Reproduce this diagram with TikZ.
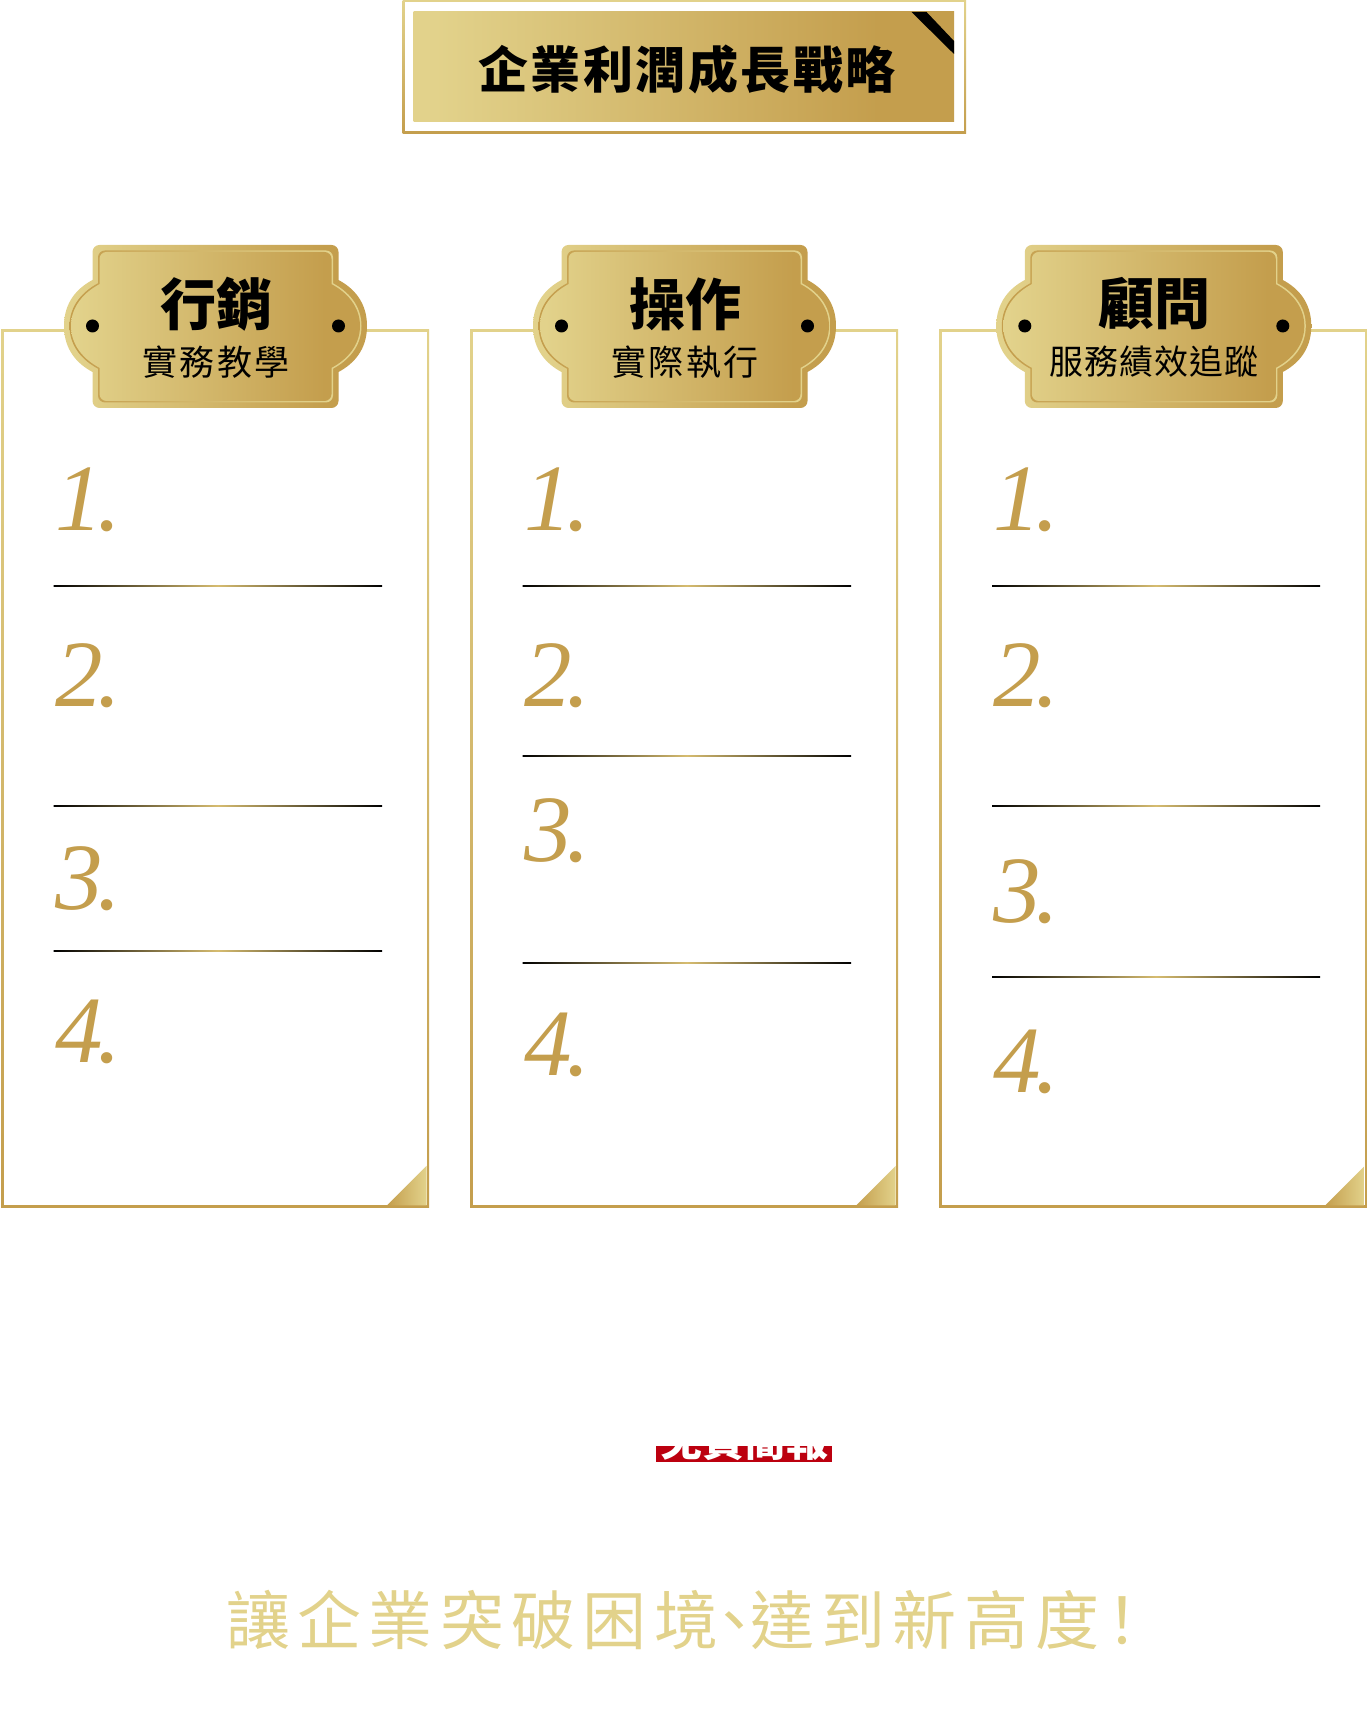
\documentclass[tikz,border=0pt]{standalone}
\usepackage{fontspec}
\setmainfont{Liberation Serif}
\newfontfamily\cjk{Noto Sans CJK TC}
\definecolor{goldlight}{HTML}{E2D28B}
\definecolor{golddark}{HTML}{C49E4D}
\definecolor{goldmid}{HTML}{D6BC70}
\definecolor{redband}{HTML}{BC000F}
\pgfdeclarehorizontalshading{goldband}{100bp}{color(0bp)=(goldlight); color(27bp)=(goldlight); color(68bp)=(golddark); color(100bp)=(golddark)}
\pgfdeclarehorizontalshading{goldbandrev}{100bp}{color(0bp)=(golddark); color(27bp)=(golddark); color(68bp)=(goldlight); color(100bp)=(goldlight)}
\tikzset{
	txt/.style={inner sep=0pt,outer sep=0pt},
	numeral/.style={txt,anchor=base west,text=golddark,font=\fontsize{95}{95}\selectfont\itshape},
	rulegold/.style={left color=black,right color=black,middle color=goldmid},
	headtext/.style={txt,font=\cjk\bfseries\fontsize{56}{56}\selectfont},
	subtext/.style={txt,font=\cjk\fontsize{35}{35}\selectfont\addfontfeature{LetterSpace=6}},
	plaquepath/.style n args={3}{insert path={
		({#1-#2+#3+7},{1468-#3}) -- ({#1+#2-#3-7},{1468-#3}) arc[start angle=90,end angle=0,radius=7]
		-- ({#1+#2-#3},{1433-.6*#3})
		.. controls ({#1+#2-#3+15},{1425-.6*#3}) and ({#1+#2-#3+28.5},{1411-.6*#3}) .. ({#1+#2-#3+28.5},1387)
		.. controls ({#1+#2-#3+28.5},{1363+.6*#3}) and ({#1+#2-#3+15},{1349+.6*#3}) .. ({#1+#2-#3},{1341+.6*#3})
		-- ({#1+#2-#3},{1305+#3+7}) arc[start angle=0,end angle=-90,radius=7]
		-- ({#1-#2+#3+7},{1305+#3}) arc[start angle=-90,end angle=-180,radius=7]
		-- ({#1-#2+#3},{1341+.6*#3})
		.. controls ({#1-#2+#3-15},{1349+.6*#3}) and ({#1-#2+#3-28.5},{1363+.6*#3}) .. ({#1-#2+#3-28.5},1387)
		.. controls ({#1-#2+#3-28.5},{1411-.6*#3}) and ({#1-#2+#3-15},{1425-.6*#3}) .. ({#1-#2+#3},{1433-.6*#3})
		-- ({#1-#2+#3},{1468-#3-7}) arc[start angle=180,end angle=90,radius=7] -- cycle}}
}
% frame of one column, #1 is its left edge
\newcommand{\notepanel}[1]{
	\shade[top color=goldlight,bottom color=golddark] (#1,505) rectangle ++(428,878);
	\fill[white] (#1+2.5,507.5) rectangle ++(423,873);
	\shade[left color=golddark,right color=goldlight] (#1+386,507.5) -- (#1+425.5,507.5) -- (#1+425.5,547) -- cycle;
}
% badge on top of a column, #1 centre, #2 half width
\newcommand{\plaque}[2]{
	\begin{scope}
		\clip[plaquepath={#1}{#2}{0}];
		\shade[shading=goldband] ({#1-#2-29},1305) rectangle ({#1+#2+29},1468);
		\clip[plaquepath={#1}{#2}{5.5}];
		\shade[shading=goldbandrev] ({#1-#2-29},1305) rectangle ({#1+#2+29},1468);
		\clip[plaquepath={#1}{#2}{7}];
		\shade[shading=goldband] ({#1-#2-29},1305) rectangle ({#1+#2+29},1468);
	\end{scope}
	\fill ({#1-#2},1387) circle (6.5);
	\fill ({#1+#2},1387) circle (6.5);
}
\begin{document}
\begin{tikzpicture}[x=1pt,y=1pt]
	\useasboundingbox (0,0) rectangle (1367,1713);
	
	\shade[top color=goldlight,bottom color=golddark] (402.5,1579.5) rectangle (966,1713);
	\fill[white] (405,1582) rectangle (963.5,1710.5);
	\shade[shading=goldband] (413.5,1591) rectangle (954,1701);
	\fill (911.5,1701) -- (926.5,1701) -- (954,1672) -- (954,1659) -- cycle;
	\node[txt,font=\cjk\bfseries\fontsize{50}{50}\selectfont\addfontfeature{LetterSpace=5}] (title) at (687,1644) {企業利潤成長戰略};
	
	\notepanel{1} \notepanel{470} \notepanel{939}
	\plaque{215.5}{123} \plaque{684.5}{123} \plaque{1153.8}{129}
	
	\node[headtext] (head1) at (216,1409) {行銷};
	\node[subtext] (sub1) at (216,1351) {實務教學};
	\node[headtext] (head2) at (685,1409) {操作};
	\node[subtext] (sub2) at (685,1351) {實際執行};
	\node[headtext] (head3) at (1154,1409) {顧問};
	\node[subtext,font=\cjk\fontsize{34}{34}\selectfont\addfontfeature{LetterSpace=3}] (sub3) at (1154,1351) {服務績效追蹤};
	
	\node[numeral] (a1) at (55,1182) {1\kern-.05em.}; \shade[rulegold] (53.5,1126.3) rectangle ++(328.5,1.5);
	\node[numeral] (a2) at (55,1006) {2\kern-.05em.}; \shade[rulegold] (53.5,906.3) rectangle ++(328.5,1.5);
	\node[numeral] (a3) at (55,803) {3\kern-.05em.}; \shade[rulegold] (53.5,761.3) rectangle ++(328.5,1.5);
	\node[numeral] (a4) at (55,650) {4\kern-.05em.};
	
	\node[numeral] (b1) at (524,1182) {1\kern-.05em.}; \shade[rulegold] (522.5,1126.3) rectangle ++(328.5,1.5);
	\node[numeral] (b2) at (524,1006) {2\kern-.05em.}; \shade[rulegold] (522.5,956.3) rectangle ++(328.5,1.5);
	\node[numeral] (b3) at (524,851) {3\kern-.05em.}; \shade[rulegold] (522.5,749.3) rectangle ++(328.5,1.5);
	\node[numeral] (b4) at (524,637) {4\kern-.05em.};
	
	\node[numeral] (c1) at (993,1182) {1\kern-.05em.}; \shade[rulegold] (992,1126.3) rectangle ++(328,1.5);
	\node[numeral] (c2) at (993,1006) {2\kern-.05em.}; \shade[rulegold] (992,906.3) rectangle ++(328,1.5);
	\node[numeral] (c3) at (993,790) {3\kern-.05em.}; \shade[rulegold] (992,735.3) rectangle ++(328,1.5);
	\node[numeral] (c4) at (993,620) {4\kern-.05em.};
	
	\fill[redband] (656,251) rectangle (832,267);
	\node[txt,anchor=base,text=white,font=\cjk\bfseries\fontsize{42}{42}\selectfont] (band) at (744,256) {免費簡報};
	
	\node[txt,text=goldlight,font=\cjk\fontsize{64}{64}\selectfont\addfontfeature{LetterSpace=11.5}] (slogan) at (690,93) {讓企業突破困境\kern-.25em、\kern-.25em 達到新高度\kern-.15em！};
\end{tikzpicture}
\end{document}
